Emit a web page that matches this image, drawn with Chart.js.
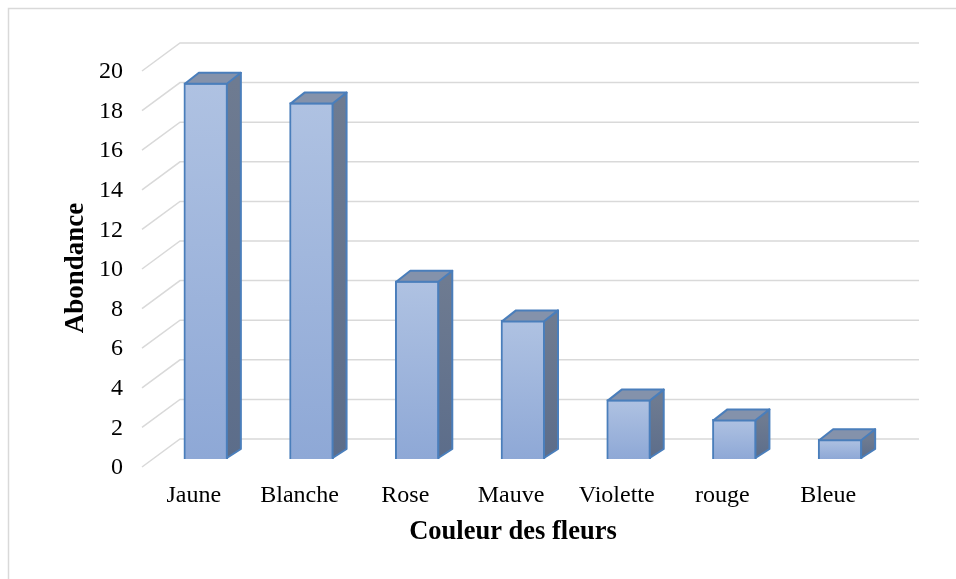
<!DOCTYPE html>
<html lang="fr">
<head>
    <meta charset="UTF-8">
    <title>Abondance des fleurs</title>
    <script src="https://cdn.jsdelivr.net/npm/chart.js"></script>
    <style>
        body { margin: 0; background: #fff; }
    </style>
</head>
<body>
    <canvas id="fleurChart" width="956" height="579"></canvas>

    <script>
        // data
        const couleurs = ['Jaune', 'Blanche', 'Rose', 'Mauve', 'Violette', 'rouge', 'Bleue'];
        const abondance = [19, 18, 9, 7, 3, 2, 1];
        const yTicks = [0, 2, 4, 6, 8, 10, 12, 14, 16, 18, 20];
        const xTitle = 'Couleur des fleurs';
        const yTitle = 'Abondance';

        const serif = "'Liberation Serif', 'Times New Roman', serif";
        const borderBlue = '#4A7EBB';

        // white background + frame of the chart
        const framePlugin = {
            id: 'frame',
            beforeDraw(chart) {
                const ctx = chart.ctx;
                ctx.save();
                ctx.fillStyle = '#fff';
                ctx.fillRect(0, 0, chart.width, chart.height);
                ctx.strokeStyle = '#D9D9D9';
                ctx.lineWidth = 1.5;
                ctx.strokeRect(8.5, 8.5, chart.width + 50, chart.height + 50);
                ctx.restore();
            },
            afterDraw(chart) {
                // axis titles (excel places them a bit off the plot centre)
                const ctx = chart.ctx;
                const area = chart.chartArea;
                ctx.save();
                ctx.fillStyle = '#000';
                ctx.textAlign = 'center';
                ctx.textBaseline = 'middle';
                ctx.font = `bold 26.5px ${serif}`;
                ctx.fillText(xTitle, (area.left + area.right) / 2 - 10, area.bottom + 73);
                ctx.translate(area.left - 77, (area.top + area.bottom) / 2 + 7);
                ctx.rotate(-Math.PI / 2);
                ctx.font = `bold 27px ${serif}`;
                ctx.fillText(yTitle, 0, 0);
                ctx.restore();
            }
        };

        // 3d walls: gridlines on the back wall + diagonals on the side wall
        const wallPlugin = {
            id: 'walls',
            beforeDatasetsDraw(chart) {
                const ctx = chart.ctx;
                const y = chart.scales.y;
                const area = chart.chartArea;
                ctx.save();
                ctx.strokeStyle = '#D9D9D9';
                ctx.lineWidth = 1.5;
                yTicks.forEach(v => {
                    const py = y.getPixelForValue(v);
                    ctx.beginPath();
                    ctx.moveTo(area.left - 11, py + 8);
                    ctx.lineTo(area.left + 27, py - 20);
                    ctx.lineTo(area.right + 26, py - 20);
                    ctx.stroke();
                });
                ctx.restore();

                // gradient on each bar's front face
                const meta = chart.getDatasetMeta(0);
                meta.data.forEach(bar => {
                    const g = ctx.createLinearGradient(0, bar.y, 0, bar.base);
                    g.addColorStop(0, '#AFC2E2');
                    g.addColorStop(1, '#8EA8D6');
                    bar.options.backgroundColor = g;
                });
            },
            afterDatasetsDraw(chart) {
                const ctx = chart.ctx;
                const meta = chart.getDatasetMeta(0);
                const dx = 14, dy = -10;
                ctx.save();
                ctx.lineJoin = 'round';
                ctx.lineWidth = 2;
                ctx.strokeStyle = borderBlue;
                meta.data.forEach(bar => {
                    const l = bar.x - bar.width / 2;
                    const r = bar.x + bar.width / 2;
                    const t = bar.y;
                    const b = bar.base;

                    // side
                    const gs = ctx.createLinearGradient(0, t, 0, b);
                    gs.addColorStop(0, '#6E7B91');
                    gs.addColorStop(1, '#5C6D8A');
                    ctx.beginPath();
                    ctx.moveTo(r - 1, t);
                    ctx.lineTo(r - 1 + dx, t + dy);
                    ctx.lineTo(r - 1 + dx, b + dy);
                    ctx.lineTo(r - 1, b - 1);
                    ctx.closePath();
                    ctx.fillStyle = gs;
                    ctx.fill();
                    ctx.stroke();

                    // top
                    ctx.beginPath();
                    ctx.moveTo(l + 1, t + 1);
                    ctx.lineTo(l + 1 + dx, t + dy);
                    ctx.lineTo(r - 1 + dx, t + dy);
                    ctx.lineTo(r - 1, t + 1);
                    ctx.closePath();
                    ctx.fillStyle = '#8492AB';
                    ctx.fill();
                    ctx.stroke();
                });
                ctx.restore();
            }
        };

        new Chart(document.getElementById('fleurChart'), {
            type: 'bar',
            data: {
                labels: couleurs,
                datasets: [{
                    label: yTitle,
                    data: abondance,
                    // scriptable so every bar keeps its own options object
                    backgroundColor: () => '#9DB4DC',
                    borderColor: borderBlue,
                    borderWidth: 2,
                    barThickness: 44
                }]
            },
            options: {
                responsive: false,
                animation: false,
                layout: { padding: { top: 63, right: 63, left: 0, bottom: 0 } },
                plugins: {
                    legend: { display: false },
                    tooltip: { enabled: false }
                },
                scales: {
                    x: {
                        grid: { display: false, drawTicks: false },
                        border: { display: false },
                        ticks: {
                            color: '#000',
                            font: { family: serif, size: 24 },
                            padding: 22,
                            labelOffset: -12,
                            maxRotation: 0
                        },
                        afterFit(scale) { scale.height = 120; }
                    },
                    y: {
                        min: 0,
                        max: 20,
                        afterBuildTicks(scale) { scale.ticks = yTicks.map(v => ({ value: v })); },
                        grid: { display: false, drawTicks: false },
                        border: { display: false },
                        ticks: {
                            color: '#000',
                            font: { family: serif, size: 24 },
                            padding: 30,
                            labelOffset: 9
                        },
                        afterFit(scale) { scale.width = 153; }
                    }
                }
            },
            plugins: [framePlugin, wallPlugin]
        });
    </script>
</body>
</html>
